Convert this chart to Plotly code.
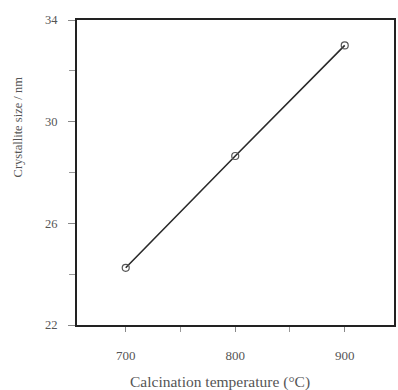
import plotly.graph_objects as go

# Calcination temperature (°C) vs crystallite size (nm)
temperature = [700, 800, 900]
crystallite_size = [24.25, 28.65, 33.0]

x_ticks = [700, 800, 900]
x_minor = [750, 850]
y_ticks = [22, 26, 30, 34]
y_minor = [24, 28, 32]

x_title = "Calcination temperature (°C)"
y_title = "Crystallite size / nm"

fig = go.Figure()
fig.add_trace(go.Scatter(
    x=temperature, y=crystallite_size,
    mode="lines+markers",
    line=dict(color="#2a2a2a", width=1.6),
    marker=dict(symbol="circle-open", size=7, color="#555555", line=dict(width=1.2)),
    showlegend=False,
))

font = "Liberation Serif"
fig.update_layout(
    width=398, height=390,
    margin=dict(l=77, r=2, t=20, b=65),
    paper_bgcolor="white", plot_bgcolor="white",
    font=dict(family=font, color="#555555", size=12),
    xaxis=dict(
        range=[655.5, 945], tickvals=x_ticks, showgrid=False, zeroline=False,
        showline=True, mirror=True, linecolor="#222222", linewidth=1.8,
        ticks="outside", ticklen=5, tickcolor="#888888", tickwidth=1,
        minor=dict(tickvals=x_minor, ticks="outside", ticklen=5, tickcolor="#999999"),
        ticklabelstandoff=12,
        tickfont=dict(size=13),
    ),
    yaxis=dict(
        range=[22, 34], tickvals=y_ticks, showgrid=False, zeroline=False,
        showline=True, mirror=True, linecolor="#222222", linewidth=1.8,
        ticks="outside", ticklen=7, tickcolor="#888888", tickwidth=1,
        minor=dict(tickvals=y_minor, ticks="outside", ticklen=6, tickcolor="#999999"),
        ticklabelstandoff=8,
        tickfont=dict(size=12.5),
    ),
    annotations=[
        dict(text=x_title, xref="paper", yref="paper", x=0.451, y=-0.187,
             xanchor="center", yanchor="middle", showarrow=False,
             font=dict(size=15.5, color="#555555")),
        dict(text=y_title, xref="paper", yref="paper", x=-0.185, y=0.649,
             xanchor="center", yanchor="middle", textangle=-90, showarrow=False,
             font=dict(size=12.5, color="#555555")),
    ],
)

fig.write_html("out.html")
